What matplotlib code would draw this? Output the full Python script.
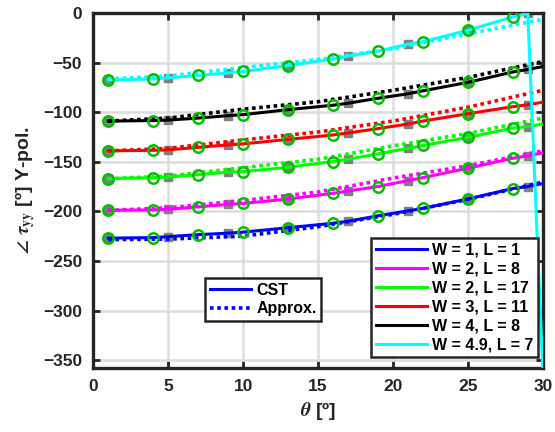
import numpy as np
import matplotlib
matplotlib.use('Agg')
import matplotlib.pyplot as plt
from matplotlib.lines import Line2D

plt.rcParams['font.family'] = ['Liberation Sans', 'DejaVu Sans']
plt.rcParams['font.weight'] = 'bold'
plt.rcParams['axes.labelweight'] = 'bold'
plt.rcParams['mathtext.fontset'] = 'stix'

# CST simulated phase, theta grid and one curve per (W, L) patch
theta_cst = [1, 4, 5, 7, 9, 10, 13, 16, 17, 19, 21, 22, 25, 28, 29, 30]
circ_theta = [1, 4, 7, 10, 13, 16, 19, 22, 25, 28]
sq_theta = [1, 5, 9, 13, 17, 21, 25, 29]

cst_w1_l1 = [-227, -226.5, -225.5, -223.5, -222, -221, -216.5, -212, -210, -204.5, -199.5, -197, -187.5, -177, -175, -172]
cst_w2_l8 = [-199, -198.5, -198, -195.5, -193, -192, -187.6, -181.8, -179.5, -175, -169, -166, -156.5, -146.5, -144, -141]
cst_w2_l17 = [-167, -166, -165.5, -163, -160.5, -160, -155.6, -149.8, -147.5, -142, -136.6, -133.6, -125.5, -116, -114.5, -112]
cst_w3_l11 = [-139, -138.5, -138, -135.5, -133, -132, -127.5, -123, -121, -116.6, -112, -109, -101.6, -94.5, -92.5, -90]
cst_w4_l8 = [-109, -108.5, -108, -106, -103.5, -102.5, -97.5, -93, -91, -86, -81.5, -78.5, -70, -59.5, -57, -54]
cst_w49_l7 = [-67.5, -66.5, -65.5, -63, -60.5, -59, -53, -46.5, -43.5, -38.5, -31.5, -29, -17.5, -4, -0.5, -360]

# approximation model
theta_app = [1, 5, 10, 15, 20, 25, 30]
app_w1_l1 = [-228.5, -228, -225, -215.5, -203, -188, -170.5]
app_w2_l8 = [-199, -196.5, -189, -180.5, -166.5, -154, -139]
app_w2_l17 = [-167, -164.5, -156, -147.5, -134, -121.5, -106]
app_w3_l11 = [-139, -136.5, -128, -120, -109, -95, -78]
app_w4_l8 = [-109, -106, -97, -89.5, -78, -65, -49]
app_w49_l7 = [-66.5, -63.5, -55, -47, -36, -21, -6.5]

labels = ['W = 1, L = 1', 'W = 2, L = 8', 'W = 2, L = 17',
          'W = 3, L = 11', 'W = 4, L = 8', 'W = 4.9, L = 7']
colors = ['#0000ff', '#ff00ff', '#00ff00', '#ff0000', '#000000', '#00ffff']
cst = [cst_w1_l1, cst_w2_l8, cst_w2_l17, cst_w3_l11, cst_w4_l8, cst_w49_l7]
app = [app_w1_l1, app_w2_l8, app_w2_l17, app_w3_l11, app_w4_l8, app_w49_l7]

fig = plt.figure(figsize=(5.55, 4.32), dpi=100)
ax = fig.add_axes([0.168, 0.148, 0.810, 0.822])

for c, y_cst, y_app in zip(colors, cst, app):
    y_cst = np.array(y_cst)
    x_cst = np.array(theta_cst)
    sq = np.isin(x_cst, sq_theta)
    ci = np.isin(x_cst, circ_theta)
    ax.plot(x_cst[sq], y_cst[sq], 's', color='#808080', ms=6, mec='#808080', zorder=2)
    ax.plot(x_cst, y_cst, '-', color=c, lw=2.2, zorder=3)
    ax.plot(theta_app, y_app, linestyle=(0, (1, 1)), color=c, lw=2.6, zorder=3)
    ax.plot(x_cst[ci], y_cst[ci], 'o', mfc='none', mec='#00c000', ms=7.5, mew=1.8, zorder=4)

ax.set_xlim(0, 30)
ax.set_ylim(-358, 0)
ax.set_xticks(np.arange(0, 31, 5))
ax.set_yticks(np.arange(-350, 1, 50))
ax.grid(True, color='#dddddd', lw=1.8)
ax.set_axisbelow(True)
ax.tick_params(direction='in', top=True, right=True, length=5, width=2,
               color='#262626', labelsize=12.5, labelcolor='#262626', pad=8)
for s in ax.spines.values():
    s.set_linewidth(2.4)
    s.set_color('#262626')

ax.set_xlabel(r'$\theta$ [º]', fontsize=14, fontweight='bold', color='#262626', labelpad=4)
ax.set_ylabel(r'$\angle\ \tau_{\mathrm{yy}}$ [º] Y-pol.', fontsize=14, fontweight='bold',
              color='#262626', labelpad=4)

h1 = [Line2D([], [], color='#0000ff', lw=2.2),
      Line2D([], [], color='#0000ff', lw=2.6, linestyle=(0, (1, 1)))]
leg1 = ax.legend(h1, ['CST', 'Approx.'], loc='upper left', bbox_to_anchor=(0.249, 0.253),
                 fontsize=11.5, fancybox=False, edgecolor='#262626', framealpha=1,
                 handlelength=2.6, handletextpad=0.3, borderpad=0.3, labelspacing=0.2,
                 borderaxespad=0)
leg1.get_frame().set_linewidth(1.8)
ax.add_artist(leg1)

h2 = [Line2D([], [], color=c, lw=2.2) for c in colors]
leg2 = ax.legend(h2, labels, loc='lower right', bbox_to_anchor=(0.989, 0.031),
                 fontsize=11.5, fancybox=False, edgecolor='#262626', framealpha=1,
                 handlelength=3.2, handletextpad=0.3, borderpad=0.3, labelspacing=0.25,
                 borderaxespad=0)
leg2.get_frame().set_linewidth(1.8)

fig.savefig('out.png', dpi=100)
